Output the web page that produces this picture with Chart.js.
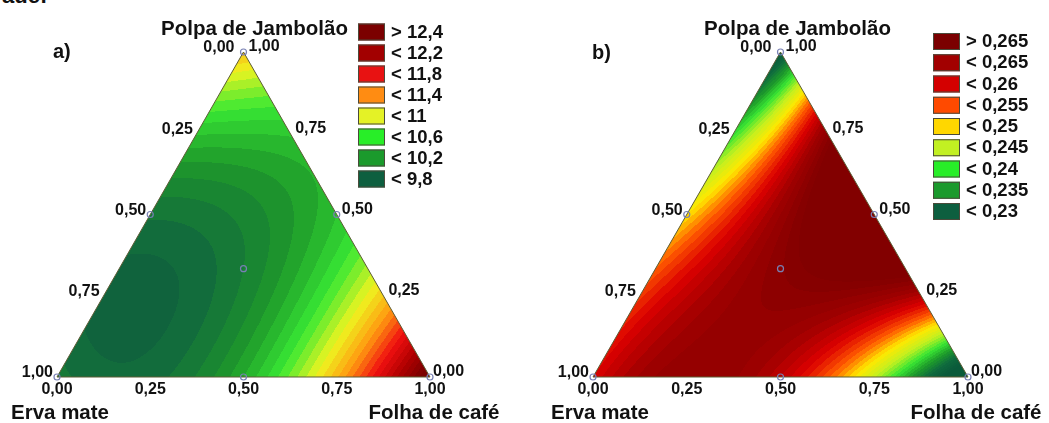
<!DOCTYPE html>
<html>
<head>
<meta charset="utf-8">
<script src="https://cdn.jsdelivr.net/npm/chart.js@4.4.1/dist/chart.umd.min.js"></script>
<style>
  html, body { margin: 0; padding: 0; background: #fff; overflow: hidden; width: 1049px; height: 423px; }
  .panel { position: absolute; top: 0; height: 423px; }
  #panelA { left: 0; width: 520px; }
  #panelB { left: 520px; width: 529px; }
  #heading { position: absolute; left: 2px; top: -17px; font: bold 22px "Liberation Sans", Arial, sans-serif; color: #111; white-space: nowrap; }
</style>
</head>
<body>
<div id="heading">ade:</div>
<div class="panel" id="panelA"><canvas id="chartA" width="520" height="423"></canvas></div>
<div class="panel" id="panelB"><canvas id="chartB" width="529" height="423"></canvas></div>
<script>
// Mixture components (vertices: bottom-left, bottom-right, top)
const componentNames = ['Erva mate', 'Folha de café', 'Polpa de Jambolão'];

// Ternary tick values and their printed labels
const tickValues = [0, 0.25, 0.5, 0.75, 1];
const tickLabels = ['0,00', '0,25', '0,50', '0,75', '1,00'];

// Simplex-centroid design: pure blends, binary 1:1 blends, centroid
const designErva  = [1, 0, 0, 0.5, 0.5, 0,   1 / 3];
const designFolha = [0, 1, 0, 0.5, 0,   0.5, 1 / 3];
const designPolpa = [0, 0, 1, 0,   0.5, 0.5, 1 / 3];

// Fitted responses at the design blends
const responseA = [9.75, 12.6, 11.05, 10.1, 9.72, 10.2, 9.8];
const responseB = [0.2575, 0.213, 0.222, 0.260, 0.2475, 0.2782, 0.266];

// Legend classes
const legendLabelsA = ['> 12,4', '< 12,2', '< 11,8', '< 11,4', '< 11', '< 10,6', '< 10,2', '< 9,8'];
const legendColorsA = ['#7b0000', '#a20000', '#e81212', '#ff8c12', '#e4f226', '#28ee28', '#1b9a2c', '#0d5f3f'];
const legendLabelsB = ['> 0,265', '< 0,265', '< 0,26', '< 0,255', '< 0,25', '< 0,245', '< 0,24', '< 0,235', '< 0,23'];
const legendColorsB = ['#7b0000', '#a20000', '#d40000', '#ff4a00', '#ffd700', '#c2f022', '#28ee28', '#1b9a2c', '#0d5f3f'];

// Colour ramps for the shaded surfaces (level, colour); class colours sit mid-class
const rampLevelsA = [9.2, 9.6, 10.0, 10.4, 10.8, 11.2, 11.6, 12.0, 12.4];
const rampColorsA = ['#0c5639', '#10653e', '#1f9a2b', '#38e834', '#eef520', '#ff9a10', '#f01010', '#b00000', '#7a0000'];
const rampLevelsB = [0.2225, 0.2275, 0.2325, 0.2375, 0.2425, 0.2475, 0.2525, 0.2575, 0.2625, 0.2675];
const rampColorsB = ['#0a5a3a', '#0f6a3e', '#1d9a2a', '#3ae633', '#c4f020', '#ffe800', '#ff5a00', '#dc0000', '#a00000', '#820000'];

const FONT = '"Liberation Sans", Arial, Helvetica, sans-serif';

// Special cubic Scheffé model through the seven design responses
function scheffe(resp) {
  const [y1, y2, y3, y12, y13, y23, y123] = resp;
  const b12 = 4 * y12 - 2 * y1 - 2 * y2;
  const b13 = 4 * y13 - 2 * y1 - 2 * y3;
  const b23 = 4 * y23 - 2 * y2 - 2 * y3;
  const b123 = 27 * y123 - 12 * (y12 + y13 + y23) + 3 * (y1 + y2 + y3);
  return (e, f, p) => y1 * e + y2 * f + y3 * p + b12 * e * f + b13 * e * p + b23 * f * p + b123 * e * f * p;
}

// Ternary (erva, folha, polpa) -> plane coordinates used by the x/y scales
function toXY(e, f, p) { return { x: f + p / 2, y: p }; }

function hexRgb(h) {
  const n = parseInt(h.slice(1), 16);
  return [(n >> 16) & 255, (n >> 8) & 255, n & 255];
}

function makeRamp(levels, colors) {
  const rgb = colors.map(hexRgb);
  return v => {
    if (v <= levels[0]) return rgb[0];
    const last = levels.length - 1;
    if (v >= levels[last]) return rgb[last];
    let i = 0;
    while (v > levels[i + 1]) i++;
    const t = (v - levels[i]) / (levels[i + 1] - levels[i]);
    return rgb[i].map((c, k) => Math.round(c + (rgb[i + 1][k] - c) * t));
  };
}

// Shaded contour surface, clipped to the simplex
const surfacePlugin = {
  id: 'surface',
  beforeDatasetsDraw(chart, args, opts) {
    const { ctx, chartArea, scales } = chart;
    const model = scheffe(opts.response);
    const ramp = makeRamp(opts.levels, opts.colors);
    const step = opts.step;
    const x0 = Math.floor(chartArea.left), y0 = Math.floor(chartArea.top);
    const w = Math.ceil(chartArea.right) - x0 + 1, h = Math.ceil(chartArea.bottom) - y0 + 1;
    const off = document.createElement('canvas');
    off.width = w; off.height = h;
    const octx = off.getContext('2d');
    const img = octx.createImageData(w, h);
    for (let j = 0; j < h; j++) {
      const Y = scales.y.getValueForPixel(y0 + j + 0.5);
      for (let i = 0; i < w; i++) {
        const X = scales.x.getValueForPixel(x0 + i + 0.5);
        let p = Math.min(1, Math.max(0, Y));
        let f = X - p / 2;
        let e = 1 - f - p;
        f = Math.max(0, f); e = Math.max(0, e);
        const s = e + f + p;
        const v = model(e / s, f / s, p / s);
        const band = (Math.floor(v / step) + 0.5) * step;
        const c = ramp(band);
        const k = (j * w + i) * 4;
        img.data[k] = c[0]; img.data[k + 1] = c[1]; img.data[k + 2] = c[2]; img.data[k + 3] = 255;
      }
    }
    octx.putImageData(img, 0, 0);
    const a = toXY(1, 0, 0), b = toXY(0, 1, 0), c = toXY(0, 0, 1);
    ctx.save();
    ctx.beginPath();
    ctx.moveTo(scales.x.getPixelForValue(a.x), scales.y.getPixelForValue(a.y));
    ctx.lineTo(scales.x.getPixelForValue(b.x), scales.y.getPixelForValue(b.y));
    ctx.lineTo(scales.x.getPixelForValue(c.x), scales.y.getPixelForValue(c.y));
    ctx.closePath();
    ctx.clip();
    ctx.drawImage(off, x0, y0);
    ctx.restore();
  }
};

// Ternary axis labels, component names, panel letter and legend
const annotationPlugin = {
  id: 'ternaryText',
  afterDraw(chart, args, opts) {
    const { ctx, scales } = chart;
    const px = (e, f, p) => { const q = toXY(e, f, p); return [scales.x.getPixelForValue(q.x), scales.y.getPixelForValue(q.y)]; };
    ctx.save();
    ctx.fillStyle = '#111';
    ctx.font = 'bold 16px ' + FONT;
    ctx.textBaseline = 'middle';
    tickValues.forEach((v, i) => {
      // Erva mate fraction along the left edge
      let [x, y] = px(v, 0, 1 - v);
      ctx.textAlign = 'right';
      ctx.fillText(tickLabels[i], x - (v === 0 ? 9 : 4), y - 4);
      // Polpa de Jambolão fraction along the right edge
      [x, y] = px(0, 1 - v, v);
      ctx.textAlign = 'left';
      ctx.fillText(tickLabels[i], x + (v === 0 ? 3 : 5), y - 5);
      // Folha de café fraction along the bottom edge
      [x, y] = px(1 - v, v, 0);
      ctx.textAlign = 'center';
      ctx.fillText(tickLabels[i], x, y + 13);
    });

    ctx.font = 'bold 20.5px ' + FONT;
    ctx.textBaseline = 'alphabetic';
    ctx.textAlign = 'center';
    let [x, y] = px(1, 0, 0);
    ctx.fillText(componentNames[0], x + opts.nameDx[0], 419);
    [x, y] = px(0, 1, 0);
    ctx.fillText(componentNames[1], x + opts.nameDx[1], 419);
    [x, y] = px(0, 0, 1);
    ctx.fillText(componentNames[2], x + opts.nameDx[2], 35);

    ctx.textAlign = 'left';
    ctx.font = 'bold 20px ' + FONT;
    ctx.fillText(opts.letter, opts.letterX, opts.letterY);

    // Legend
    const L = opts.legend;
    ctx.font = 'bold 18.5px ' + FONT;
    ctx.textBaseline = 'middle';
    L.labels.forEach((lab, i) => {
      const by = L.y + i * L.pitch;
      ctx.fillStyle = L.colors[i];
      ctx.fillRect(L.x, by, 27, 17);
      ctx.strokeStyle = '#4a4a3a';
      ctx.lineWidth = 1;
      ctx.strokeRect(L.x + 0.5, by + 0.5, 26, 16);
      ctx.fillStyle = '#111';
      ctx.fillText(lab, L.x + 33, by + 9);
    });
    ctx.restore();
  }
};

function buildChart(canvasId, cfg) {
  const outline = [toXY(1, 0, 0), toXY(0, 1, 0), toXY(0, 0, 1), toXY(1, 0, 0)];
  const design = designErva.map((e, i) => toXY(e, designFolha[i], designPolpa[i]));
  return new Chart(document.getElementById(canvasId), {
    type: 'scatter',
    data: {
      datasets: [
        {
          data: outline, showLine: true, borderColor: '#5c5c34', borderWidth: 1,
          pointRadius: 0, fill: false, clip: false, order: 2
        },
        {
          data: design, pointRadius: 3, pointBorderWidth: 1.2,
          pointBackgroundColor: 'rgba(0,0,0,0)', pointBorderColor: '#7880b4', clip: false, order: 1
        }
      ]
    },
    options: {
      responsive: false,
      animation: false,
      devicePixelRatio: 1,
      layout: { padding: cfg.padding },
      scales: {
        x: { type: 'linear', min: 0, max: 1, display: false },
        y: { type: 'linear', min: 0, max: 1, display: false }
      },
      plugins: {
        legend: { display: false },
        tooltip: { enabled: false },
        surface: { response: cfg.response, levels: cfg.levels, colors: cfg.colors, step: cfg.step },
        ternaryText: {
          letter: cfg.letter, letterX: cfg.letterX, letterY: cfg.letterY,
          nameDx: cfg.nameDx, legend: cfg.legend
        }
      }
    },
    plugins: [surfacePlugin, annotationPlugin]
  });
}

buildChart('chartA', {
  padding: { left: 57, right: 90, top: 52, bottom: 46 },
  response: responseA, levels: rampLevelsA, colors: rampColorsA, step: 0.1,
  letter: 'a)', letterX: 53, letterY: 58, nameDx: [3, 4, 11],
  legend: { x: 358, y: 23.5, pitch: 21, labels: legendLabelsA, colors: legendColorsA }
});

buildChart('chartB', {
  padding: { left: 73, right: 81, top: 52, bottom: 46 },
  response: responseB, levels: rampLevelsB, colors: rampColorsB, step: 0.00125,
  letter: 'b)', letterX: 72, letterY: 59, nameDx: [7, 8, 17],
  legend: { x: 413, y: 33, pitch: 21.25, labels: legendLabelsB, colors: legendColorsB }
});
</script>
</body>
</html>
